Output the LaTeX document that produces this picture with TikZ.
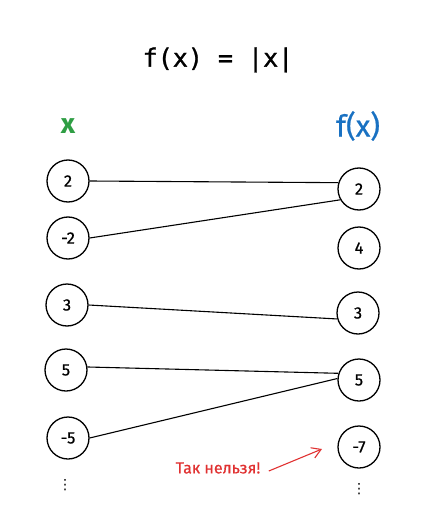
\documentclass[tikz,border=0pt]{standalone}
\usepackage{fontspec}
\setmainfont{Fira Sans}
\newfontfamily\titlefont[FakeBold=1.2]{DejaVu Sans Mono}
\newfontfamily\numfont[FakeBold=0.6]{Fira Sans}
\newfontfamily\symfont{DejaVu Sans}
\usetikzlibrary{arrows.meta}
\definecolor{exgreen}{HTML}{2F9E44}
\definecolor{exblue}{HTML}{1971C2}
\definecolor{exred}{HTML}{E03131}
\tikzset{
  val/.style={circle, draw=black, line width=1.3pt, minimum size=42pt, inner sep=0pt,
    font=\numfont\fontsize{16.5}{16.5}\selectfont},
  link/.style={draw=black, line width=1.1pt},
  dots/.style={font=\symfont\fontsize{14}{14}\selectfont, inner sep=0pt},
}
\begin{document}
\begin{tikzpicture}[x=1pt,y=-1pt]
\useasboundingbox (0,0) rectangle (427,516);
\node[font=\titlefont\fontsize{25}{25}\selectfont] (title) at (218,60) {f(x) = |x|};
\node[font=\fontsize{28}{28}\selectfont\bfseries, text=exgreen] (xl) at (68,126) {x};
\node[font=\numfont\fontsize{30}{30}\selectfont, text=exblue] (fl) at (358,126) {f(x)};
% left column
\node[val] (l2) at (68,181) {2};
\node[val] (lm2) at (68,238) {-2};
\node[val] (l3) at (67,305) {3};
\node[val] (l5) at (66,370) {5};
\node[val] (lm5) at (68,438) {-5};
\node[dots] (ld) at (65,485) {⋮};
% right column
\node[val] (r2) at (359,189) {2};
\node[val] (r4) at (359,248) {4};
\node[val] (r3) at (358,313) {3};
\node[val] (r5) at (359,380) {5};
\node[val] (rm7) at (359,447) {-7};
\node[dots] (rd) at (359,489) {⋮};
% connectors
\draw[link] (l2.east) -- (r2.163);
\draw[link] (lm2.east) -- (r2.210);
\draw[link] (l3.east) -- (r3.196);
\draw[link] (l5.8) -- (r5.162);
\draw[link] (lm5.east) -- (r5.176);
% warning
\node[font=\numfont\fontsize{16}{16}\selectfont, text=exred] (warn) at (218,468) {Так нельзя!};
\coordinate (tip) at (322,449);
\draw[exred, line width=1.1pt, -{Straight Barb[length=9pt,width=11pt]}] ([xshift=5pt,yshift=-3pt]warn.east) -- (tip);
\end{tikzpicture}
\end{document}
